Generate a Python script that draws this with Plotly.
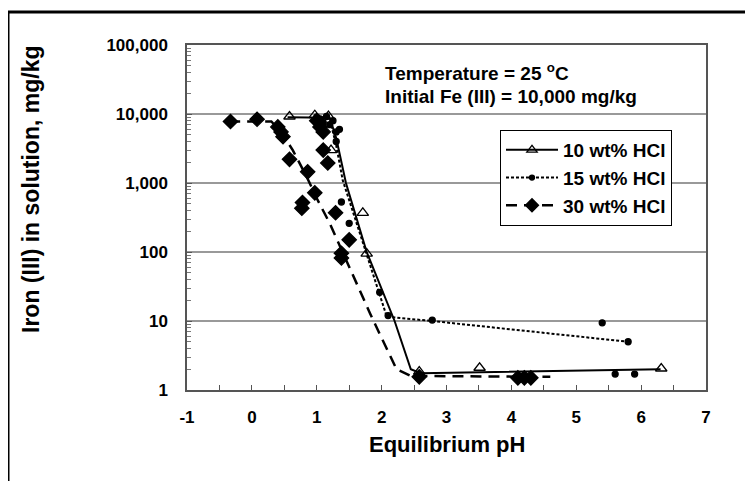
import plotly.graph_objects as go

# ---- data ----
ph_10 = [0.58, 0.97, 1.18, 1.22, 1.71, 1.77, 2.58, 3.51, 6.31]
fe_10 = [9200, 9600, 9300, 3000, 370, 95, 1.85, 2.1, 2.05]
fit_ph_10 = [0.55, 1.2, 1.3, 1.45, 1.77, 2.2, 2.45, 2.6, 6.3]
fit_fe_10 = [9000, 8800, 4500, 1000, 100, 10, 2.0, 1.75, 2.0]

ph_15 = [1.0, 1.05, 1.1, 1.15, 1.2, 1.25, 1.3, 1.3, 1.35, 1.38, 1.5, 1.97, 2.1, 2.78, 5.4, 5.8, 5.6, 5.9]
fe_15 = [9000, 8500, 7500, 9200, 7000, 8000, 5500, 4000, 6000, 530, 260, 26, 12, 10.3, 9.4, 5.0, 1.7, 1.7]
fit_ph_15 = [1.0, 1.2, 1.3, 1.4, 2.08, 2.78, 5.8]
fit_fe_15 = [9200, 8500, 3500, 1100, 11.5, 10, 5.0]

ph_30 = [-0.33, 0.08, 0.4, 0.45, 0.48, 0.58, 0.78, 0.77, 0.86, 0.97, 1.0, 1.05, 1.1, 1.1, 1.17, 1.29, 1.38, 1.38, 1.5, 2.58, 4.1, 4.2, 4.3]
fe_30 = [7800, 8400, 6500, 5500, 4700, 2200, 520, 430, 1450, 720, 8000, 6500, 5500, 3000, 1950, 370, 96, 82, 150, 1.55, 1.5, 1.5, 1.5]
fit_ph_30 = [-0.35, 0.3, 0.45, 0.63, 0.85, 1.0, 1.2, 1.5, 1.82, 1.97, 2.23, 2.45, 4.6]
fit_fe_30 = [7800, 7800, 5500, 3000, 1200, 600, 260, 60, 13, 6.5, 2.0, 1.6, 1.55]

series_names = ["10 wt% HCl", "15 wt% HCl", "30 wt% HCl"]
x_ticks = [-1, 0, 1, 2, 3, 4, 5, 6, 7]
x_tick_text = ["-1", "0", "1", "2", "3", "4", "5", "6", "7"]
y_ticks = [1, 10, 100, 1000, 10000, 100000]
y_tick_text = ["1", "10", "100", "1,000", "10,000", "100,000"]
note_lines = ["Temperature = 25 <sup>o</sup>C", "Initial Fe (III) = 10,000 mg/kg"]
x_title = "Equilibrium pH"
y_title = "Iron (III) in solution, mg/kg"

FONT = "Liberation Sans, Arial, sans-serif"

W, H = 753, 481
OFF = 8  # page body margin; positions below are given in screen pixels
L, R, T, B = 187 - OFF, W - (706 - OFF), 45 - OFF, H - (390 - OFF)
pw, ph = W - L - R, H - T - B

def px_x(p):
    return (p - OFF - L) / pw

def px_y(p):
    return (H - B - (p - OFF)) / ph

fig = go.Figure()

styles = [
    dict(dash="solid", width=2, symbol="triangle-up-open", size=10),
    dict(dash="3px,2px", width=2, symbol="circle", size=6),
    dict(dash="11px,7px", width=2.5, symbol="diamond", size=11),
]
fits = [(fit_ph_10, fit_fe_10), (fit_ph_15, fit_fe_15), (fit_ph_30, fit_fe_30)]
pts = [(ph_10, fe_10), (ph_15, fe_15), (ph_30, fe_30)]

for (fx, fy), st in zip(fits, styles):
    fig.add_trace(go.Scatter(x=fx, y=fy, mode="lines", showlegend=False,
                             line=dict(color="black", width=st["width"], dash=st["dash"]),
                             hoverinfo="skip"))
for (x, y), st in zip(pts, styles):
    fig.add_trace(go.Scatter(x=x, y=y, mode="markers", showlegend=False,
                             marker=dict(symbol=st["symbol"], size=st["size"], color="black",
                                         line=dict(color="black", width=1.3))))
for name, st in zip(series_names, styles):
    fig.add_trace(go.Scatter(x=[None], y=[None], mode="lines+markers", name=name,
                             line=dict(color="black", width=st["width"], dash=st["dash"]),
                             marker=dict(symbol=st["symbol"], size=st["size"] - 1, color="black",
                                         line=dict(color="black", width=1.3))))

fig.update_layout(
    width=W, height=H,
    margin=dict(l=L, r=R, t=T, b=B, autoexpand=False),
    paper_bgcolor="white", plot_bgcolor="white",
    font=dict(family=FONT, color="black", size=17, weight="bold"),
    showlegend=True,
    legend=dict(x=px_x(500), y=px_y(130), xanchor="left", yanchor="top",
                bordercolor="black", borderwidth=1, bgcolor="white",
                font=dict(size=19, family=FONT, weight="bold"),
                itemwidth=52, tracegroupgap=0, entrywidth=125, entrywidthmode="pixels"),
    xaxis=dict(range=[-1, 7], tickvals=x_ticks, ticktext=x_tick_text,
               ticks="inside", ticklen=5, automargin=False, ticklabelstandoff=11,
               tickcolor="#555", showline=True, linecolor="#555", linewidth=1.5,
               mirror=True, showgrid=False, zeroline=False,
               tickfont=dict(size=17),
               minor=dict(dtick=0.5, ticks="inside", ticklen=5, tickcolor="#555")),
    yaxis=dict(type="log", range=[0, 5], tickvals=y_ticks, ticktext=y_tick_text,
               ticks="inside", ticklen=5, tickcolor="#555", automargin=False,
               ticklabelstandoff=14,
               showline=True, linecolor="#555", linewidth=1.5, mirror=True,
               showgrid=True, gridcolor="#999", gridwidth=1.5, zeroline=False,
               tickfont=dict(size=17),
               minor=dict(dtick="D1", ticks="inside", ticklen=4, tickcolor="#777", showgrid=False)),
)

for i, txt in enumerate(note_lines):
    fig.add_annotation(xref="paper", yref="paper", x=px_x(383), y=px_y(72 + 24 * i),
                       xanchor="left", yanchor="middle", text=txt, showarrow=False,
                       font=dict(size=19, family=FONT, weight="bold"))

fig.add_annotation(xref="paper", yref="paper", x=px_x(447), y=px_y(444),
                   xanchor="center", yanchor="middle", text=x_title, showarrow=False,
                   font=dict(size=22, family=FONT, weight="bold"))
fig.add_annotation(xref="paper", yref="paper", x=px_x(31), y=px_y(190),
                   xanchor="center", yanchor="middle", text=y_title, showarrow=False,
                   textangle=-90, font=dict(size=23, family=FONT, weight="bold"))

# outer frame (left and top edges)
fig.add_shape(type="line", xref="paper", yref="paper", x0=px_x(8), x1=px_x(770),
              y0=px_y(12), y1=px_y(12), line=dict(color="black", width=3))
fig.add_shape(type="line", xref="paper", yref="paper", x0=px_x(8), x1=px_x(8),
              y0=px_y(12), y1=px_y(500), line=dict(color="black", width=3))

fig.write_html("out.html")
